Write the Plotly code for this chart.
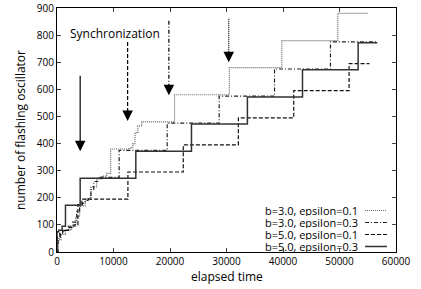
import plotly.graph_objects as go

# ---- data ----
t_b3e01 = [0, 200, 700, 1500, 2500, 3300, 4000, 5000, 6000, 7000, 8000, 8800, 9500, 12900, 13400, 13800, 14300, 15000, 20800, 30500, 39800, 49700, 55000]
v_b3e01 = [0, 45, 65, 80, 95, 130, 170, 195, 240, 270, 280, 290, 380, 385, 400, 440, 465, 480, 580, 680, 780, 880, 880]

t_b3e03 = [0, 200, 600, 1200, 2000, 2800, 3500, 4000, 4500, 5000, 5500, 6000, 6500, 7200, 11000, 19500, 28700, 38500, 48400, 56800]
v_b3e03 = [0, 50, 70, 80, 95, 110, 150, 170, 180, 190, 200, 230, 260, 275, 375, 475, 575, 675, 775, 775]

t_b5e01 = [0, 0, 500, 1000, 2000, 3000, 3700, 4400, 12550, 22350, 32100, 41900, 51700, 55300]
v_b5e01 = [0, 55, 70, 80, 90, 100, 175, 195, 295, 395, 495, 595, 695, 695]

t_b5e03 = [0, 0, 300, 900, 1500, 4100, 13950, 23800, 33700, 43450, 53300, 56700]
v_b5e03 = [0, 75, 80, 95, 172, 272, 372, 472, 572, 672, 772, 772]

series_names = ["b=3.0, epsilon=0.1", "b=3.0, epsilon=0.3", "b=5.0, epsilon=0.1", "b=5.0, epsilon=0.3"]

arrow_x = [4100, 12500, 19800, 30400]
arrow_top = [650, 775, 853, 860]
arrow_tip = [372, 483, 578, 700]

x_ticks = [0, 10000, 20000, 30000, 40000, 50000, 60000]
x_tick_labels = ["0", "10000", "20000", "30000", "40000", "50000", "60000"]
y_ticks = [0, 100, 200, 300, 400, 500, 600, 700, 800, 900]
y_tick_labels = ["0", "100", "200", "300", "400", "500", "600", "700", "800", "900"]

# ---- styles ----
FONT = "Open Sans"
styles = [
    dict(dash="1px,1px", color="#666666", width=1.2),
    dict(dash="4px,2px,1px,2px", color="#222222", width=1.2),
    dict(dash="4px,2px", color="#111111", width=1.2),
    dict(dash="solid", color="#333333", width=1.5),
]
arrow_styles = [styles[3], styles[2], styles[1], styles[0]]

W, H = 421, 289
pl, pr, pt, pb = 57, 396, 8, 252

fig = go.Figure()
for t, v, st, name in zip([t_b3e01, t_b3e03, t_b5e01, t_b5e03],
                          [v_b3e01, v_b3e03, v_b5e01, v_b5e03], styles, series_names):
    fig.add_trace(go.Scatter(x=t, y=v, mode="lines", line=dict(shape="hv", **st),
                             name=name, showlegend=False))

# arrows
for x, y0, y1, st in zip(arrow_x, arrow_top, arrow_tip, arrow_styles):
    fig.add_trace(go.Scatter(x=[x, x], y=[y0, y1 + 25], mode="lines",
                             line=dict(dash=st["dash"], color="black", width=1.2),
                             showlegend=False, hoverinfo="skip"))
    fig.add_annotation(x=x, y=y1, ax=0, ay=-12, xref="x", yref="y", text="",
                       showarrow=True, arrowhead=2, arrowsize=1.4, arrowwidth=1.5,
                       arrowcolor="black")

fig.add_annotation(x=10300, y=805, xref="x", yref="y", text="Synchronization",
                   showarrow=False, font=dict(family=FONT, size=12, color="black"))

# manual legend (text then sample)
leg_y = [210.5, 222.5, 234.5, 246.5]
for name, yy in zip(series_names, leg_y):
    fig.add_annotation(x=(359 - pl) / (pr - pl), y=(pb - yy) / (pb - pt),
                       xref="paper", yref="paper", text=name,
                       showarrow=False, xanchor="right", yanchor="middle",
                       height=11, valign="middle", borderpad=0,
                       font=dict(family=FONT, size=11, color="black"))
for st, yy in zip(styles, leg_y):
    fig.add_shape(type="line", xref="paper", yref="paper",
                  x0=(365 - pl) / (pr - pl), x1=(387 - pl) / (pr - pl),
                  y0=(pb - yy) / (pb - pt), y1=(pb - yy) / (pb - pt),
                  line=dict(dash=st["dash"], color=st["color"], width=st["width"]))

# axis titles
fig.add_annotation(x=0.5, y=(pb - 276) / (pb - pt), xref="paper", yref="paper",
                   text="elapsed time", showarrow=False, yanchor="middle",
                   font=dict(family=FONT, size=12, color="black"))
fig.add_annotation(x=(20 - pl) / (pr - pl), y=0.5, xref="paper", yref="paper",
                   text="number of flashing oscillator", showarrow=False, textangle=-90,
                   xanchor="center", yanchor="middle",
                   font=dict(family=FONT, size=12, color="black"))

fig.update_layout(
    width=W, height=H,
    margin=dict(l=pl, r=W - pr, t=pt, b=H - pb),
    paper_bgcolor="white", plot_bgcolor="white",
    font=dict(family=FONT, size=10, color="black"),
    showlegend=False,
)
fig.update_xaxes(range=[0, 60000], tickvals=x_ticks, ticktext=x_tick_labels,
                 ticks="inside", ticklen=4, automargin=False,
                 mirror="allticks", showline=True, linecolor="black", linewidth=1,
                 showgrid=False, zeroline=False,
                 tickfont=dict(family=FONT, size=10))
fig.update_yaxes(range=[0, 900], tickvals=y_ticks, ticktext=y_tick_labels,
                 ticks="inside", ticklen=4, automargin=False,
                 mirror="allticks", showline=True, linecolor="black", linewidth=1,
                 showgrid=False, zeroline=False,
                 tickfont=dict(family=FONT, size=10))

fig.write_html("out.html", config={"displayModeBar": False},
               post_script="document.body.style.margin='0';document.body.style.overflow='hidden';")
